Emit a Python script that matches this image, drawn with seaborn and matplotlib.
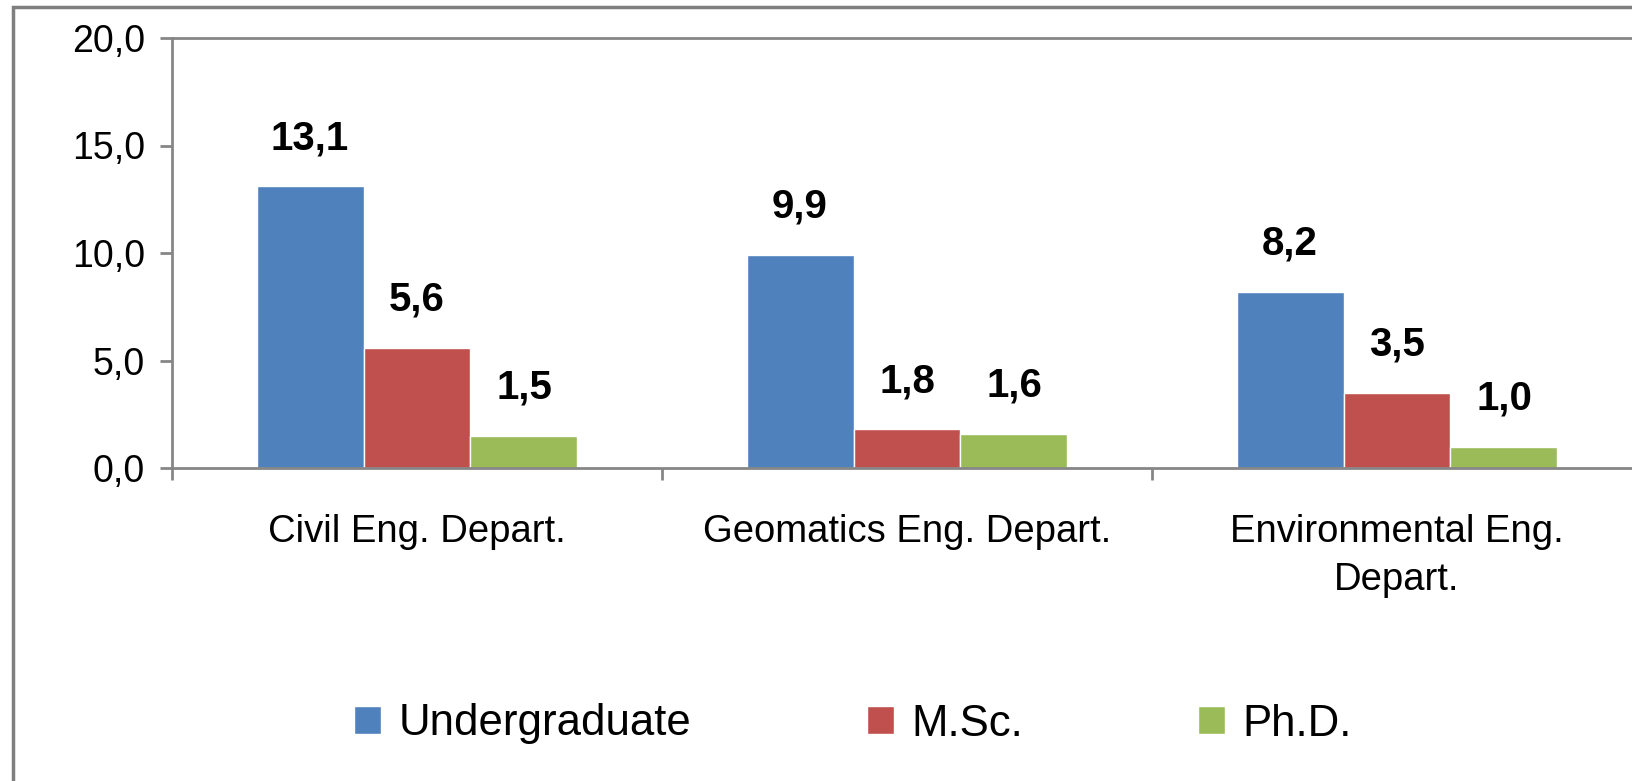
import numpy as np
import pandas as pd
import seaborn as sns
import matplotlib.pyplot as plt
from matplotlib.patches import Rectangle
from matplotlib.ticker import FuncFormatter

# data
departments = ["Civil Eng. Depart.", "Geomatics Eng. Depart.", "Environmental Eng.\nDepart."]
levels = ["Undergraduate", "M.Sc.", "Ph.D."]
undergraduate = [13.1, 9.9, 8.2]
msc = [5.6, 1.8, 3.5]
phd = [1.5, 1.6, 1.0]
colors = ["#4F81BD", "#C0504D", "#9BBB59"]

df = pd.DataFrame({
    "Department": departments * 3,
    "Level": np.repeat(levels, 3),
    "Value": undergraduate + msc + phd,
})

sns.set_theme(style="white")
plt.rcParams["font.family"] = ["Liberation Sans", "DejaVu Sans"]
plt.rcParams["text.color"] = "black"
plt.rcParams["xtick.color"] = "black"
plt.rcParams["ytick.color"] = "black"

W, H = 1632, 781
fig = plt.figure(figsize=(W / 100, H / 100), dpi=100)
ax = fig.add_axes([172 / W, 1 - 468 / H, 1470 / W, 430 / H])

sns.barplot(data=df, x="Department", y="Value", hue="Level", palette=colors, saturation=1,
            width=0.655, edgecolor="white", linewidth=1, ax=ax)

# value labels, comma decimal
for cont in ax.containers:
    ax.bar_label(cont, labels=[f"{b.get_height():.1f}".replace(".", ",") for b in cont],
                 padding=21, fontsize=29, fontweight="bold", color="black")

ax.set_ylim(0, 20)
ax.set_xlim(-0.5, 2.5)
ax.set_yticks([0, 5, 10, 15, 20])
ax.yaxis.set_major_formatter(FuncFormatter(lambda v, p: f"{v:.1f}".replace(".", ",")))
ax.set_xticks([-0.5, 0.5, 1.5, 2.5], minor=True)
for t in ax.get_xticklabels():
    t.set_linespacing(1.45)

gray = "#868686"
ax.tick_params(axis="y", left=True, length=8.6, width=2, color=gray, labelcolor="black",
               pad=11, labelsize=27)
ax.tick_params(axis="x", which="major", length=0, pad=33, labelsize=27.5, labelcolor="black")
ax.tick_params(axis="x", which="minor", bottom=True, length=8.6, width=2, color=gray)
for s in ["left", "bottom", "top"]:
    ax.spines[s].set_color(gray)
    ax.spines[s].set_linewidth(2)
ax.spines["right"].set_visible(False)
ax.set_xlabel("")
ax.set_ylabel("")

# legend at bottom
handles, labels = ax.get_legend_handles_labels()
ax.get_legend().remove()
fig.legend(handles, labels, loc="center", bbox_to_anchor=(853 / W, 1 - 724 / H),
           ncol=3, frameon=False, fontsize=31.5, handlelength=0.62, handleheight=0.62,
           handletextpad=0.4, columnspacing=4.0, labelcolor="black")

# outer chart border (cropped on right and bottom)
fig.patches.append(Rectangle((13 / W, -0.5), 2, 0.5 + 1 - 7 / H, transform=fig.transFigure,
                             fill=False, edgecolor="#7f7f7f", lw=2.5))

fig.savefig("out.png", dpi=100)
